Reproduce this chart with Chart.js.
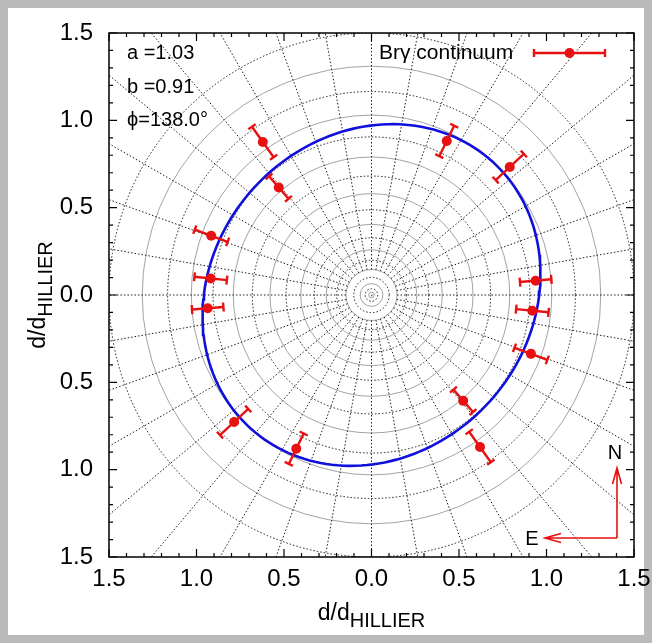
<!DOCTYPE html>
<html>
<head>
<meta charset="utf-8">
<title>Brγ continuum size ratio</title>
<script src="https://cdn.jsdelivr.net/npm/chart.js@4/dist/chart.umd.min.js"></script>
<style>
  html, body { margin: 0; padding: 0; background: #bababa; }
  canvas { display: block; }
</style>
</head>
<body>
<canvas id="chart" width="652" height="643"></canvas>
<script>
// Axis tick values (labels show the absolute value)
const axisTicks = [-1.5, -1.0, -0.5, 0.0, 0.5, 1.0, 1.5];

// Measured d/d_HILLIER per baseline: x toward West (left = East), y toward North
const pointX = [-0.621, -0.530, -0.916, -0.919, -0.936, -0.785, -0.430,
                 0.430,  0.790,  0.938,  0.919,  0.911,  0.524,  0.620];
const pointY = [ 0.876,  0.615,  0.339,  0.095, -0.076, -0.727, -0.880,
                 0.882,  0.733,  0.082, -0.090, -0.337, -0.606, -0.870];
// Radial uncertainty of each measurement
const radialErr = [0.107, 0.085, 0.100, 0.093, 0.090, 0.110, 0.097,
                   0.097, 0.110, 0.090, 0.093, 0.100, 0.085, 0.107];

// Elliptical fit parameters (semi-axes and position angle, N through E)
const fitA = 1.03;
const fitB = 0.91;
const fitPhiDeg = 138.0;

// Polar reference grid: ring radii and spoke spacing (degrees)
const ringRadii = [0.004, 0.016, 0.036, 0.065, 0.101, 0.146, 0.199, 0.259, 0.327, 0.404,
                   0.488, 0.580, 0.681, 0.790, 0.905, 1.030, 1.165, 1.310, 1.500];
const spokeStepDeg = 10;

const RED = 'rgb(232,16,16)';
const BLUE = 'rgb(16,16,220)';
const FONT = '"Liberation Sans", Arial, Helvetica, sans-serif';

// Fitted ellipse outline from a, b and the position angle
const phi = fitPhiDeg * Math.PI / 180;
const major = { x: -Math.sin(phi), y: Math.cos(phi) };
const minor = { x: Math.cos(phi), y: Math.sin(phi) };
const ellipsePts = [];
for (let deg = 0; deg <= 360; deg += 2) {
  const t = deg * Math.PI / 180;
  const u = fitA * Math.cos(t), v = fitB * Math.sin(t);
  ellipsePts.push({ x: u * major.x + v * minor.x, y: u * major.y + v * minor.y });
}

const measPts = pointX.map((x, i) => ({ x: x, y: pointY[i] }));

function drawSubText(ctx, main, sub, mainSize, subSize, subDrop) {
  // main text followed by a subscript, left-aligned on baseline 0
  ctx.font = mainSize + 'px ' + FONT;
  const w1 = ctx.measureText(main).width;
  ctx.fillText(main, 0, 0);
  ctx.font = subSize + 'px ' + FONT;
  ctx.fillText(sub, w1, subDrop);
}
function subTextWidth(ctx, main, sub, mainSize, subSize) {
  ctx.font = mainSize + 'px ' + FONT;
  const w1 = ctx.measureText(main).width;
  ctx.font = subSize + 'px ' + FONT;
  return w1 + ctx.measureText(sub).width;
}

const polarPlugin = {
  id: 'polarPlugin',
  beforeDraw(chart) {
    const { ctx, width, height } = chart;
    ctx.save();
    ctx.fillStyle = '#bababa';
    ctx.fillRect(0, 0, width, height);
    ctx.fillStyle = '#ffffff';
    ctx.fillRect(8, 8, 636, 627);
    ctx.restore();
  },
  beforeDatasetsDraw(chart) {
    const { ctx, chartArea } = chart;
    const xs = chart.scales.x, ys = chart.scales.y;
    const cx = xs.getPixelForValue(0), cy = ys.getPixelForValue(0);
    ctx.save();
    ctx.beginPath();
    ctx.rect(chartArea.left, chartArea.top, chartArea.right - chartArea.left, chartArea.bottom - chartArea.top);
    ctx.clip();
    // rings: solid grey and dotted dark, alternating
    ringRadii.forEach((r, i) => {
      const rx = xs.getPixelForValue(r) - cx;
      const ry = cy - ys.getPixelForValue(r);
      ctx.beginPath();
      ctx.ellipse(cx, cy, Math.max(rx, 0.6), Math.max(ry, 0.6), 0, 0, Math.PI * 2);
      if ((i + 1) % 2 === 0) {
        ctx.setLineDash([]);
        ctx.strokeStyle = '#999999';
        ctx.lineWidth = 0.9;
      } else {
        ctx.setLineDash([1.5, 2]);
        ctx.strokeStyle = '#1e1e1e';
        ctx.lineWidth = 1;
      }
      ctx.stroke();
    });
    // spokes
    ctx.setLineDash([1.5, 2]);
    ctx.strokeStyle = '#1e1e1e';
    ctx.lineWidth = 1;
    const r0 = ringRadii[5], r1 = 2.3;
    for (let a = 0; a < 360; a += spokeStepDeg) {
      const t = a * Math.PI / 180;
      ctx.beginPath();
      ctx.moveTo(xs.getPixelForValue(r0 * Math.cos(t)), ys.getPixelForValue(r0 * Math.sin(t)));
      ctx.lineTo(xs.getPixelForValue(r1 * Math.cos(t)), ys.getPixelForValue(r1 * Math.sin(t)));
      ctx.stroke();
    }
    ctx.restore();
  },
  beforeDatasetDraw(chart, args) {
    if (args.index !== 0) return;
    const { ctx } = chart;
    const xs = chart.scales.x, ys = chart.scales.y;
    ctx.save();
    ctx.strokeStyle = RED;
    ctx.lineWidth = 2.4;
    ctx.setLineDash([]);
    pointX.forEach((x, i) => {
      const y = pointY[i];
      const r = Math.hypot(x, y);
      const ux = x / r, uy = y / r;
      const rin = r - radialErr[i], rout = r + radialErr[i];
      const p1 = { x: xs.getPixelForValue(rin * ux), y: ys.getPixelForValue(rin * uy) };
      const p2 = { x: xs.getPixelForValue(rout * ux), y: ys.getPixelForValue(rout * uy) };
      ctx.beginPath();
      ctx.moveTo(p1.x, p1.y);
      ctx.lineTo(p2.x, p2.y);
      ctx.stroke();
      const dx = p2.x - p1.x, dy = p2.y - p1.y, L = Math.hypot(dx, dy);
      const nx = -dy / L * 4.5, ny = dx / L * 4.5;
      [p1, p2].forEach(p => {
        ctx.beginPath();
        ctx.moveTo(p.x - nx, p.y - ny);
        ctx.lineTo(p.x + nx, p.y + ny);
        ctx.stroke();
      });
    });
    ctx.restore();
  },
  afterDraw(chart) {
    const { ctx, chartArea } = chart;
    const xs = chart.scales.x, ys = chart.scales.y;
    const { left, right, top, bottom } = chartArea;
    ctx.save();
    // frame
    ctx.setLineDash([]);
    ctx.strokeStyle = '#000';
    ctx.lineWidth = 1.5;
    ctx.strokeRect(left, top, right - left, bottom - top);
    // inward ticks on all four sides
    ctx.lineWidth = 1.2;
    for (let k = -15; k <= 15; k++) {
      const v = k / 10;
      const len = (k % 5 === 0) ? 8 : 4;
      const px = xs.getPixelForValue(v), py = ys.getPixelForValue(v);
      ctx.beginPath();
      ctx.moveTo(px, bottom); ctx.lineTo(px, bottom - len);
      ctx.moveTo(px, top); ctx.lineTo(px, top + len);
      ctx.moveTo(left, py); ctx.lineTo(left + len, py);
      ctx.moveTo(right, py); ctx.lineTo(right - len, py);
      ctx.stroke();
    }
    ctx.fillStyle = '#000';
    ctx.textBaseline = 'alphabetic';
    // x axis title
    const w = subTextWidth(ctx, 'd/d', 'HILLIER', 23, 20);
    ctx.save();
    ctx.translate((left + right) / 2 - w / 2, 620);
    ctx.textAlign = 'left';
    drawSubText(ctx, 'd/d', 'HILLIER', 23, 20, 7);
    ctx.restore();
    // y axis title
    ctx.save();
    ctx.translate(45, (top + bottom) / 2 + w / 2);
    ctx.rotate(-Math.PI / 2);
    ctx.textAlign = 'left';
    drawSubText(ctx, 'd/d', 'HILLIER', 23, 20, 7);
    ctx.restore();
    // fit parameters
    ctx.font = '20px ' + FONT;
    ctx.textAlign = 'left';
    ctx.textBaseline = 'middle';
    ctx.fillText('a =' + fitA.toFixed(2), 127, 53);
    ctx.fillText('b =' + fitB.toFixed(2), 127, 87);
    ctx.fillText('ϕ=' + fitPhiDeg.toFixed(1) + '°', 127, 120);
    // legend
    ctx.font = '21px ' + FONT;
    ctx.fillText('Brγ continuum', 379, 53);
    ctx.strokeStyle = RED;
    ctx.lineWidth = 2.4;
    ctx.beginPath();
    ctx.moveTo(534, 53); ctx.lineTo(605, 53);
    ctx.moveTo(534, 49); ctx.lineTo(534, 57);
    ctx.moveTo(605, 49); ctx.lineTo(605, 57);
    ctx.stroke();
    ctx.fillStyle = RED;
    ctx.beginPath();
    ctx.arc(569.5, 53, 5, 0, Math.PI * 2);
    ctx.fill();
    // orientation arrows
    ctx.strokeStyle = RED;
    ctx.lineWidth = 1.6;
    const ox = 617, oy = 538;
    ctx.beginPath();
    ctx.moveTo(ox, oy); ctx.lineTo(ox, 468);
    ctx.moveTo(ox - 4.5, 484); ctx.lineTo(ox, 468); ctx.lineTo(ox + 4.5, 484);
    ctx.moveTo(ox, oy); ctx.lineTo(545, oy);
    ctx.moveTo(561, oy - 4.5); ctx.lineTo(545, oy); ctx.lineTo(561, oy + 4.5);
    ctx.stroke();
    ctx.fillStyle = '#000';
    ctx.font = '20px ' + FONT;
    ctx.textAlign = 'center';
    ctx.fillText('N', 615, 453);
    ctx.fillText('E', 532, 539);
    ctx.restore();
  }
};

// keep the frame fixed: ignore the extra room Chart.js reserves for edge labels
function noEdgePadding(s) {
  s.paddingLeft = 0; s.paddingRight = 0; s.paddingTop = 0; s.paddingBottom = 0;
}

new Chart(document.getElementById('chart'), {
  type: 'scatter',
  data: {
    datasets: [
      {
        label: 'Brγ continuum',
        data: measPts,
        pointRadius: 5,
        pointHoverRadius: 5,
        backgroundColor: RED,
        borderColor: RED,
        borderWidth: 0
      },
      {
        label: 'fit',
        data: ellipsePts,
        showLine: true,
        pointRadius: 0,
        borderColor: BLUE,
        borderWidth: 2.6,
        tension: 0
      }
    ]
  },
  options: {
    responsive: false,
    animation: false,
    events: [],
    layout: { padding: { left: 0, top: 33, right: 18, bottom: 0 } },
    plugins: { legend: { display: false }, tooltip: { enabled: false } },
    scales: {
      x: {
        type: 'linear', min: -1.5, max: 1.5,
        afterBuildTicks: s => { s.ticks = axisTicks.map(v => ({ value: v })); },
        afterFit: s => { s.height = 86; noEdgePadding(s); },
        grid: { display: false, drawTicks: false },
        border: { display: false },
        ticks: {
          padding: 8,
          color: '#000',
          font: { family: FONT, size: 24 },
          maxRotation: 0,
          callback: v => Math.abs(v).toFixed(1)
        }
      },
      y: {
        type: 'linear', min: -1.5, max: 1.5,
        afterBuildTicks: s => { s.ticks = axisTicks.map(v => ({ value: v })); },
        afterFit: s => { s.width = 109; noEdgePadding(s); },
        grid: { display: false, drawTicks: false },
        border: { display: false },
        ticks: {
          padding: 16,
          color: '#000',
          font: { family: FONT, size: 24 },
          callback: v => Math.abs(v).toFixed(1)
        }
      }
    }
  },
  plugins: [polarPlugin]
});
</script>
</body>
</html>
